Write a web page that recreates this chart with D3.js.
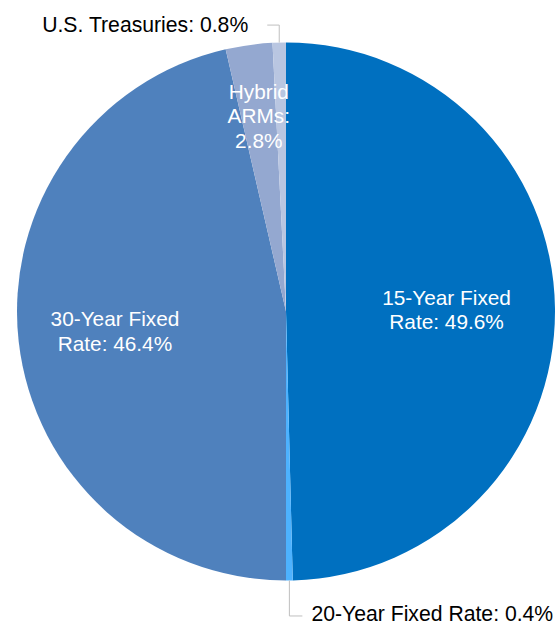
<!DOCTYPE html>
<html><head><meta charset="utf-8">
<script src="https://cdn.jsdelivr.net/npm/d3@7/dist/d3.min.js"></script>
<style>body{margin:0;background:#fff}svg{display:block}</style>
</head><body>
<svg id="c" width="555" height="624"></svg>
<script>
const categories = ["15-Year Fixed Rate", "20-Year Fixed Rate", "30-Year Fixed Rate", "Hybrid ARMs", "U.S. Treasuries"];
const values = [49.6, 0.4, 46.4, 2.8, 0.8];
const colors = ["#0070C0", "#4DB2FF", "#4F81BD", "#94A8D0", "#B9C6E1"];
const labelLines = [["15-Year Fixed", "Rate: 49.6%"], ["20-Year Fixed Rate: 0.4%"], ["30-Year Fixed", "Rate: 46.4%"], ["Hybrid", "ARMs:", "2.8%"], ["U.S. Treasuries: 0.8%"]];

const svg = d3.select("#c");
const cx = 286, cy = 311.5, r = 269;
const g = svg.append("g").attr("transform", `translate(${cx},${cy})`);
const pie = d3.pie().sort(null).value(d => d)(values);
const arc = d3.arc().innerRadius(0).outerRadius(r);
g.selectAll("path").data(pie).join("path")
  .attr("d", arc).attr("fill", (d, i) => colors[i]);

const font = "'Liberation Sans', Arial, sans-serif";
const fsIn = "20.8px", fsOut = "21.2px";
// inside labels: positioned by radial fraction along the slice's mid angle
const inside = {0: {rf: 0.597, lh: 24.5}, 2: {rf: 0.64, lh: 25}, 3: {rf: 0.734, lh: 24.5}};
Object.keys(inside).forEach(k => {
  const i = +k, d = pie[i], a = (d.startAngle + d.endAngle) / 2;
  const o = inside[k];
  const x = Math.sin(a) * r * o.rf, y = -Math.cos(a) * r * o.rf;
  const lines = labelLines[i];
  const t = g.append("text").attr("text-anchor", "middle").attr("fill", "#fff")
    .style("font-family", font).style("font-size", fsIn);
  lines.forEach((ln, j) => t.append("tspan").attr("x", x)
    .attr("y", y + (j - (lines.length - 1) / 2) * o.lh + 7.5).text(ln));
});
// U.S. Treasuries (outside, leader line up and left)
{
  const d = pie[4], a = (d.startAngle + d.endAngle) / 2;
  const px = Math.sin(a) * r, py = -Math.cos(a) * r;
  const ly = py - 17.5;
  g.append("path").attr("d", `M${px},${py}L${px},${ly}L${px - 12},${ly}`)
    .attr("fill", "none").attr("stroke", "#BFBFBF").attr("stroke-width", 1);
  g.append("text").attr("x", px - 31).attr("y", ly + 7).attr("text-anchor", "end")
    .style("font-family", font).style("font-size", fsOut).attr("fill", "#000").text(labelLines[4][0]);
}
// 20-Year Fixed Rate (outside, leader line down and right)
{
  const d = pie[1], a = (d.startAngle + d.endAngle) / 2;
  const px = Math.sin(a) * r, py = -Math.cos(a) * r;
  const ly = py + 35.5;
  g.append("path").attr("d", `M${px},${py}L${px},${ly}L${px + 13},${ly}`)
    .attr("fill", "none").attr("stroke", "#BFBFBF").attr("stroke-width", 1);
  g.append("text").attr("x", px + 22).attr("y", ly + 5.5).attr("text-anchor", "start")
    .style("font-family", font).style("font-size", fsOut).attr("fill", "#000").text(labelLines[1][0]);
}
</script>
</body></html>
